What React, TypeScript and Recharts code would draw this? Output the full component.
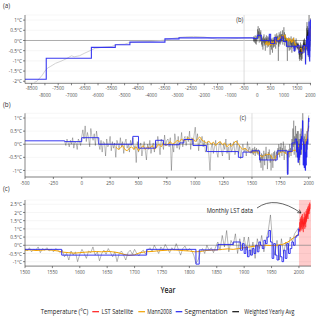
import React from "react";
import { LineChart, Line, XAxis, YAxis, CartesianGrid, ReferenceLine, ReferenceArea } from "recharts";

const FONT = "'Open Sans', 'DejaVu Sans', sans-serif";
const TXT = "#4d4d4d";

// ---------- data ----------
// Segmentation (step breakpoints)
const segYears = [-8750, -7950, -6250, -5350, -4800, -3480, -2950, -150, 0, 150, 450, 500, 650, 720, 860, 900, 980, 1100, 1380, 1420, 1500, 1567, 1722, 1812, 1818, 1852, 1880, 1893,
  1897, 1900, 1903, 1906, 1909, 1912, 1915, 1918, 1921, 1924, 1927, 1930, 1933, 1936, 1939, 1942, 1945, 1948, 1951, 1954, 1957, 1960, 1963, 1966, 1969, 1972, 1975, 1978, 1981, 1984, 1987, 1990, 1993, 1996, 1999, 2001];
const segValues = [-1.9, -0.87, -0.34, -0.21, -0.08, 0.08, 0.13, 0.1, 0.25, 0.0, 0.3, -0.15, 0.15, -0.02, 0.05, 0.18, -0.05, -0.28, -0.5, -0.3, -0.25, -0.6, -0.25, -1.15, -0.28, 0.05, 0.2, -0.3,
  0.1, -0.5, -0.1, -0.7, -0.3, -0.6, -0.2, -0.5, 0.0, -0.4, 0.2, 0.0, -0.2, 0.3, 0.1, 0.5, 0.9, 0.2, -0.8, 0.1, -0.6, -0.9, 0.0, -0.7, -1.0, -0.3, -0.8, 0.1, -0.5, -0.2, 0.2, 0.0, 0.5, 0.6, 1.0, 0.85];

// Holocene reconstruction (light grey, panel a)
const holoceneYears = [-8400, -8300, -8200, -8100, -8000, -7900, -7800, -7600, -7400, -7200, -7000, -6900, -6700, -6500, -6300, -6100, -5800, -5500, -5300, -5000, -4800, -4500, -4000, -3500, -3200, -3000, -2700, -2400, -2000, -1700, -1500, -1200, -1000, -700, -500, -200];
const holoceneValues = [-2.05, -2.0, -1.85, -1.7, -1.5, -1.35, -1.28, -1.12, -1.02, -0.9, -0.75, -0.8, -0.75, -0.62, -0.5, -0.38, -0.33, -0.3, -0.2, -0.18, -0.1, -0.07, -0.05, 0.02, 0.1, 0.14, 0.18, 0.2, 0.17, 0.1, 0.05, 0.06, 0.08, 0.1, 0.12, 0.13];

// Weighted yearly average: -150..1490 every 10 years
const wyaEarlyStart = -150;
const wyaEarlyStep = 10;
const wyaEarly = [
  0.1, -0.05, 0.2, 0.05, -0.1, 0.15, 0.0, 0.25, -0.15, 0.1, 0.05, -0.2, 0.2, 0.1, -0.05,
  0.3, 0.55, 0.2, 0.7, 0.1, 0.45, 0.25, -0.1, 0.6, 0.3, 0.15, 0.4, -0.05, 0.5, 0.2,
  0.0, -0.2, 0.15, -0.3, 0.1, 0.05, -0.45, 0.2, -0.1, 0.0, 0.3, -0.25, 0.1, -0.15, 0.05, -0.5, 0.15, 0.0, -0.2, 0.25, -0.1, 0.1, -0.35, 0.05, 0.2, -0.15, 0.0, -0.3, 0.15, -0.05,
  0.25, -0.2, -0.05, -0.7, 0.1, -0.3, -0.1, 0.05, -0.45, -0.15, 0.1, -0.25, -0.6, 0.0, -0.2, 0.15, -0.35, -0.1, 0.05, -0.3,
  0.1, -0.15, 0.3, 0.0, -0.4, 0.2, 0.05, -0.2, 0.35, -0.05, 0.15, 0.2, -0.1, 0.25, -1.0, 0.0, -0.3, 0.4, 0.1, -0.15,
  0.3, -0.2, 0.05, 0.45, -0.1, 0.2, 0.3, -0.05, 0.3, 0.1, 0.5, -0.2, 0.25, 0.0, 0.35, 0.65, 0.1, 0.4, -0.25, 0.2,
  0.05, 0.3, -0.1, 0.15, -0.3,
  -0.2, 0.1, -0.4, -1.0, -0.15, 0.05, -0.35, -0.1, 0.15, -0.3, -0.5, -0.05, 0.1, -0.25, -0.45, 0.0, -0.2, 0.2, -0.35, -0.1,
  -0.6, 0.05, -0.3, -0.15, 0.1, -0.4, -0.2, 0.15, -0.35, -0.05, -0.55, -0.2, 0.0, -0.3, -0.15, -0.45, 0.1, -0.25, -0.1, -0.35,
];
// Weighted yearly average: 1500..2000 every 4 years
const wyaLateStart = 1500;
const wyaLateStep = 4;
const wyaLate = [
  -0.2, -0.35, -0.15, -0.4, -0.25, -0.3, -0.1, -0.45, -0.2, -0.3, -0.15, -0.35, -0.25, -0.4, -0.2, -0.3,
  -0.45, -0.3, -0.7, -0.5, -0.9, -0.35, -0.6, -0.4, -1.0, -0.55, -0.25, -0.5, -0.8, -0.35, -0.45, -0.1, -0.6, -0.4, -0.95, -0.5,
  -0.3, -0.55, -0.2, -0.45, -0.7, -0.4, -1.0, -0.5, -0.35, -0.6, -0.9, -0.45, -0.3, -0.55, -0.25, -0.5, -0.65, -0.4, -0.3, -0.55,
  -0.3, -0.15, -0.4, 0.0, -0.25, -0.5, -0.1, -0.3, 0.05, -0.2, -0.45, -0.15, -0.3, 0.1, -0.25, -0.6, -0.2, -0.05, -0.35, -0.2,
  -0.3, -0.6, -1.1, -0.9, -0.4, -0.2, -0.5, 0.0, -0.3, -0.15, -0.45, -0.1,
  0.2, -0.3, 0.6, -0.1, 0.9, -0.4, 0.3, 0.0, 0.7, -0.5, 0.4, -0.2, 0.5,
  -0.3, 0.5, -0.6, 0.2, -0.8, 0.4, -0.2, 0.6, -0.4, 0.3, 0.9, 1.85, 0.2, -0.6, 0.3, -0.9, 0.4, -0.5, 0.2, -0.3, 0.5, 0.2, 0.7, 0.9, 1.1,
];

// Mann2008: 300..1480 every 20 years, 1500..2000 every 10 years
const mannEarlyStart = 300;
const mannEarlyStep = 20;
const mannEarly = [
  -0.1, -0.2, -0.15, -0.05, -0.2, -0.25, -0.15, -0.1, -0.2, -0.1,
  -0.25, -0.15, -0.05, -0.2, -0.1, -0.15, -0.05, -0.2, -0.1, 0.0,
  -0.1, 0.05, -0.05, 0.0, 0.1, 0.0, 0.05, 0.15, 0.1, 0.2,
  0.12, 0.18, 0.25, 0.15, 0.22, 0.1, 0.2, 0.28, 0.15, 0.1,
  0.05, 0.12, 0.0, 0.08, -0.05, 0.05, 0.1, -0.02, 0.05, -0.1,
  0.0, -0.08, 0.05, 0.12, 0.0, -0.12, -0.2, -0.15, -0.25, -0.3,
];
const mannLateStart = 1500;
const mannLateStep = 10;
const mannLate = [
  -0.3, -0.28, -0.32, -0.3, -0.27, -0.3, -0.35, -0.42, -0.45, -0.48,
  -0.45, -0.42, -0.4, -0.38, -0.4, -0.37, -0.4, -0.45, -0.55, -0.62,
  -0.58, -0.45, -0.4, -0.38, -0.35, -0.32, -0.3, -0.28, -0.3, -0.33,
  -0.35, -0.4, -0.38, -0.32, -0.3, -0.28, -0.25, -0.22, -0.25, -0.2,
  -0.15, -0.1, -0.05, -0.02, 0.0, -0.02, 0.0, 0.05, 0.2, 0.45, 0.7,
];

// LST satellite (every 4 months from 2001)
const lstStart = 2001;
const lstStep = 1 / 3;
const lstValues = [
  1.0, 1.4, 0.8, 1.2, 1.6, 0.9, 1.3, 1.7, 1.0, 1.5, 1.1, 1.8, 1.2, 0.9, 1.6, 1.3, 1.9, 1.0, 1.5, 1.2,
  1.7, 0.8, 1.4, 1.1, 1.6, 1.3, 2.0, 1.2, 1.7, 1.0, 1.5, 1.9, 1.3, 1.8, 1.1, 1.6, 2.1, 1.4, 1.9, 1.5,
  2.2, 1.6, 2.0, 1.7, 2.3, 1.8, 2.1, 1.6, 2.4, 1.9, 2.2, 2.0, 2.5, 1.9, 2.3, 2.1, 2.6, 2.2, 2.4, 2.5,
];

// ticks
const xTicksA = [-8500, -8000, -7500, -7000, -6500, -6000, -5500, -5000, -4500, -4000, -3500, -3000, -2500, -2000, -1500, -1000, -500, 0, 500, 1000, 1500, 2000];
const xTicksB = [-500, -250, 0, 250, 500, 750, 1000, 1250, 1500, 1750, 2000];
const xTicksC = [1500, 1550, 1600, 1650, 1700, 1750, 1800, 1850, 1900, 1950, 2000];
const yTicksA = [-2, -1.5, -1, -0.5, 0, 0.5, 1];
const yTicksB = [-1, -0.5, 0, 0.5, 1];
const yTicksC = [-1, -0.5, 0, 0.5, 1, 1.5, 2, 2.5];

// ---------- helpers ----------
type P = { x: number; y: number };
const pairs = (xs: number[], ys: number[]): P[] => xs.map((x, i) => ({ x, y: ys[i] }));
const regular = (start: number, step: number, ys: number[]): P[] => ys.map((y, i) => ({ x: start + i * step, y }));

const segmentation = pairs(segYears, segValues);
const holocene = pairs(holoceneYears, holoceneValues);
const weighted = [...regular(wyaEarlyStart, wyaEarlyStep, wyaEarly), ...regular(wyaLateStart, wyaLateStep, wyaLate)];
const mann = [...regular(mannEarlyStart, mannEarlyStep, mannEarly), ...regular(mannLateStart, mannLateStep, mannLate)];
const lst = regular(lstStart, lstStep, lstValues);

const win = (pts: P[], lo: number, hi: number) => pts.filter((p) => p.x >= lo && p.x <= hi);
const winStep = (pts: P[], lo: number, hi: number) => {
  const inside = win(pts, lo, hi);
  const before = pts.filter((p) => p.x < lo);
  if (before.length && (!inside.length || inside[0].x > lo)) inside.unshift({ x: lo, y: before[before.length - 1].y });
  return inside;
};

const COL = { lst: "#ff1a1a", mann: "#f2a200", seg: "#2323f0", wya: "#111111", holo: "#c6c6c6" };

const XTick = (p: any) => {
  const { x, y, payload, stagger } = p;
  const v = payload.value;
  let dy = 4.3;
  if (stagger) {
    const idx = Math.round((v + 8500) / 500);
    dy = idx % 2 === 0 ? 3.9 : 10.6;
  }
  return (
    <g transform={`translate(${x},${y})`}>
      <text x={0} y={0} dy={dy} textAnchor="middle" fontSize={6} fontFamily={FONT} fill={TXT} transform="scale(0.75,1)">
        {v}
      </text>
    </g>
  );
};

const YTick = (p: any) => {
  const { x, y, payload } = p;
  return (
    <g transform={`translate(${x},${y})`}>
      <text x={0} y={0} dy="0.35em" textAnchor="end" fontSize={6} fontFamily={FONT} fill={TXT} transform="scale(0.8,1)">
        {`${payload.value}°C`}
      </text>
    </g>
  );
};

const axisStroke = { stroke: "#333", strokeWidth: 0.6 };

const lineProps = { dot: false, activeDot: false, isAnimationActive: false, dataKey: "y" } as const;

const ScaledText = ({ x, y, text, size, anchor = "start", sx = 0.8, fill = "#333", weight = 400 }: any) => (
  <text transform={`translate(${x},${y}) scale(${sx},1)`} textAnchor={anchor} dy="0.35em" fontSize={size} fontFamily={FONT} fill={fill} fontWeight={weight}>
    {text}
  </text>
);

const FitText = ({ x, y, w, text, size, fill = "#333", weight = 400, anchor = "start" }: any) => (
  <text x={x} y={y} dy="0.35em" textLength={w} lengthAdjust="spacingAndGlyphs" fontSize={size} fontFamily={FONT} fill={fill} fontWeight={weight} textAnchor={anchor}>
    {text}
  </text>
);

export default function App() {
  const W = 320;
  const domA: [number, number] = [-8750, 2020];
  const domB: [number, number] = [-500, 2020];
  const domC: [number, number] = [1500, 2022];
  return (
    <div style={{ position: "absolute", left: 0, top: 0, width: 320, height: 319, background: "#fff", overflow: "hidden" }}>
      {/* Panel (a) */}
      <div style={{ position: "absolute", left: 0, top: 0 }}>
        <LineChart width={W} height={100} margin={{ top: 15, right: 9, bottom: 0, left: 0 }}>
          <CartesianGrid vertical={false} stroke="#ececec" strokeWidth={0.5} />
          <XAxis type="number" dataKey="x" domain={domA} ticks={xTicksA} allowDataOverflow height={16.7} tickSize={2} tickMargin={1} axisLine={axisStroke} tickLine={axisStroke} tick={<XTick stagger />} interval={0} />
          <YAxis type="number" domain={[-2.1, 1.25]} ticks={yTicksA} allowDataOverflow width={25} tickSize={2} tickMargin={1} axisLine={axisStroke} tickLine={axisStroke} tick={<YTick />} interval={0} />
          <ReferenceLine y={0} stroke="#8c8c8c" strokeWidth={0.7} />
          <ReferenceLine x={-500} stroke="#cfcfcf" strokeWidth={0.7} />
          <Line {...lineProps} data={win(holocene, domA[0], domA[1])} stroke={COL.holo} strokeWidth={0.8} />
          <Line {...lineProps} data={win(weighted, domA[0], domA[1])} stroke={COL.wya} strokeOpacity={0.6} strokeWidth={0.5} />
          <Line {...lineProps} data={win(mann, domA[0], domA[1])} stroke={COL.mann} strokeWidth={0.9} />
          <Line {...lineProps} type="stepAfter" data={winStep(segmentation, domA[0], domA[1])} stroke={COL.seg} strokeOpacity={0.9} strokeWidth={1.1} />
        </LineChart>
      </div>
      {/* Panel (b) */}
      <div style={{ position: "absolute", left: 0, top: 100 }}>
        <LineChart width={W} height={92} margin={{ top: 13.3, right: 9, bottom: 0, left: 0 }}>
          <CartesianGrid vertical={false} stroke="#ececec" strokeWidth={0.5} />
          <XAxis type="number" dataKey="x" domain={domB} ticks={xTicksB} allowDataOverflow height={15} tickSize={2} tickMargin={2} axisLine={axisStroke} tickLine={axisStroke} tick={<XTick />} interval={0} />
          <YAxis type="number" domain={[-1.25, 1.18]} ticks={yTicksB} allowDataOverflow width={25} tickSize={2} tickMargin={1} axisLine={axisStroke} tickLine={axisStroke} tick={<YTick />} interval={0} />
          <ReferenceLine y={0} stroke="#8c8c8c" strokeWidth={0.7} />
          <ReferenceLine x={1500} stroke="#cfcfcf" strokeWidth={0.7} />
          <Line {...lineProps} data={win(weighted, domB[0], domB[1])} stroke={COL.wya} strokeOpacity={0.55} strokeWidth={0.5} />
          <Line {...lineProps} data={win(mann, domB[0], domB[1])} stroke={COL.mann} strokeWidth={0.9} />
          <Line {...lineProps} type="stepAfter" data={winStep(segmentation, domB[0], domB[1])} stroke={COL.seg} strokeOpacity={0.9} strokeWidth={1.0} />
        </LineChart>
      </div>
      {/* Panel (c) */}
      <div style={{ position: "absolute", left: 0, top: 190 }}>
        <LineChart width={W} height={90} margin={{ top: 10, right: 9, bottom: 0, left: 0 }}>
          <CartesianGrid vertical={false} stroke="#ececec" strokeWidth={0.5} />
          <ReferenceArea x1={2000} x2={2022} fill="#ff0000" fillOpacity={0.2} stroke="none" />
          <XAxis type="number" dataKey="x" domain={domC} ticks={xTicksC} allowDataOverflow height={13.9} tickSize={2} tickMargin={2} axisLine={axisStroke} tickLine={axisStroke} tick={<XTick />} interval={0} />
          <YAxis type="number" domain={[-1.27, 2.76]} ticks={yTicksC} allowDataOverflow width={25} tickSize={2} tickMargin={1} axisLine={axisStroke} tickLine={axisStroke} tick={<YTick />} interval={0} />
          <ReferenceLine y={0} stroke="#8c8c8c" strokeWidth={0.7} />
          <Line {...lineProps} data={win(weighted, domC[0], domC[1])} stroke={COL.wya} strokeOpacity={0.5} strokeWidth={0.6} />
          <Line {...lineProps} data={win(mann, domC[0], domC[1])} stroke={COL.mann} strokeWidth={1.0} />
          <Line {...lineProps} type="stepAfter" data={winStep(segmentation, domC[0], domC[1])} stroke={COL.seg} strokeOpacity={0.9} strokeWidth={1.0} />
          <Line {...lineProps} data={lst} stroke={COL.lst} strokeWidth={0.5} />
        </LineChart>
      </div>
      {/* Text overlay */}
      <svg width={320} height={319} style={{ position: "absolute", left: 0, top: 0, pointerEvents: "none" }}>
        <ScaledText x={3} y={6} text="(a)" size={7} sx={0.9} fill="#333" />
        <ScaledText x={3} y={105} text="(b)" size={7} sx={0.9} fill="#333" />
        <ScaledText x={3} y={189} text="(c)" size={7} sx={0.9} fill="#333" />
        <ScaledText x={243.3} y={20} text="(b)" size={6.5} sx={0.9} anchor="end" fill="#333" />
        <ScaledText x={246} y={117.5} text="(c)" size={6.5} sx={0.9} anchor="end" fill="#333" />
        <FitText x={206.7} y={210.7} w={46.3} text="Monthly LST data" size={7} fill="#222" />
        <path d="M257,208 Q275,195 301,213" fill="none" stroke="#222" strokeWidth={0.7} />
        <path d="M297.2,212.6 L301,213 L299.3,209.6" fill="none" stroke="#222" strokeWidth={0.7} />
        <FitText x={168} y={290} w={15} text="Year" size={9} fill="#222" weight={600} anchor="middle" />
        {/* legend */}
        <FitText x={40.7} y={311.7} w={47.6} text="Temperature (°C)" size={6.5} fill="#222" />
        <line x1={92.3} x2={99} y1={311.7} y2={311.7} stroke={COL.lst} strokeWidth={1.2} />
        <FitText x={101.5} y={311.7} w={31.8} text="LST Satellite" size={6.5} fill="#222" />
        <line x1={138.3} x2={145} y1={311.7} y2={311.7} stroke={COL.mann} strokeWidth={1.2} />
        <FitText x={147.3} y={311.7} w={24.4} text="Mann2008" size={6.5} fill="#222" />
        <line x1={175.7} x2={182.3} y1={311.7} y2={311.7} stroke={COL.seg} strokeWidth={1.2} />
        <FitText x={184.5} y={311.7} w={43.2} text="Segmentation" size={6.5} fill="#222" />
        <line x1={232.3} x2={239} y1={311.7} y2={311.7} stroke={COL.wya} strokeWidth={1.2} />
        <FitText x={244.3} y={311.7} w={50} text="Weighted Yearly Avg" size={6.5} fill="#222" />
      </svg>
    </div>
  );
}
